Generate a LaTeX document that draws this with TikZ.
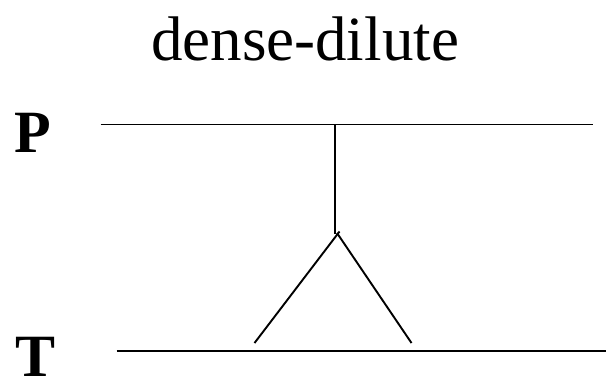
\documentclass[tikz,border=0pt]{standalone}
\usepackage{fontspec}
\setmainfont{Liberation Serif}
\begin{document}
\begin{tikzpicture}[x=1pt,y=-1pt,
  ln/.style={line width=1.9pt, black},
  lbl/.style={inner sep=0pt, anchor=base west, font=\fontsize{60}{60}\selectfont\bfseries}]
\useasboundingbox (0,0) rectangle (609,380);
\node[inner sep=0pt, anchor=base, font=\fontsize{63}{63}\selectfont] (title) at (305,60) {dense-dilute};
\node[lbl] (P) at (14,152) {P};
\node[lbl] (T) at (15,376.5) {T};
\coordinate (pl) at (100.5,124.5);
\coordinate (pr) at (592.5,124.5);
\coordinate (tl) at (116.5,351);
\coordinate (tr) at (606,351);
\coordinate (vtop) at (335,124.5);
\coordinate (vbot) at (335,234);
\coordinate (j) at (339.5,231.5);
\coordinate (jr) at (337,233);
\coordinate (bl) at (254.5,343);
\coordinate (br) at (411.5,343);
\draw[ln] (pl) -- (pr);
\draw[ln] (tl) -- (tr);
\draw[ln] (vtop) -- (vbot);
\draw[ln] (j) -- (bl);
\draw[ln] (jr) -- (br);
\end{tikzpicture}
\end{document}
